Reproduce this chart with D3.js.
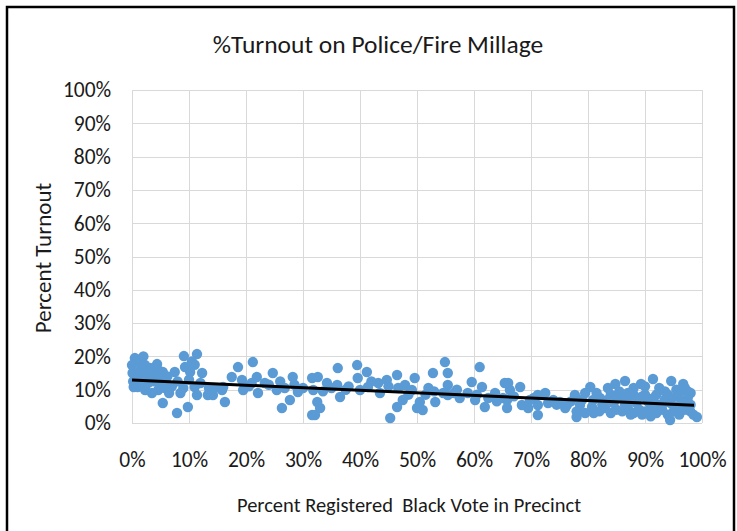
<!DOCTYPE html>
<html>
<head>
<meta charset="utf-8">
<script src="https://cdn.jsdelivr.net/npm/d3@7/dist/d3.min.js"></script>
<style>
  html, body { margin: 0; padding: 0; background: #fff; }
  svg { display: block; }
  text { font-family: Carlito, Calibri, Lato, "Open Sans", sans-serif; fill: #1a1a1a; }
</style>
</head>
<body>
<script>
// ---- data ----
const title = "%Turnout on Police/Fire Millage";
const xTitle = "Percent Registered  Black Vote in Precinct";
const yTitle = "Percent Turnout";
const xTicks = [0, 10, 20, 30, 40, 50, 60, 70, 80, 90, 100];
const yTicks = [0, 10, 20, 30, 40, 50, 60, 70, 80, 90, 100];

// percent registered black vote in precinct
const blackPct = [
  0.5,0.0,1.4,2.3,3.2,4.4,4.6,5.4,0.1,1.0,2.0,3.0,0.3,1.0,2.3,3.5,4.6,5.8,5.4,0.8,1.8,2.8,3.8,4.8,6.0,0.5,1.5,2.5,3.5,4.0,6.2,5.0,0.2,1.2,2.0,
  7.9,9.8,9.1,11.4,9.3,7.5,10.2,12.3,9.0,11.0,11.4,13.3,14.2,15.8,7.0,8.0,10.0,11.0,12.0,13.5,8.5,6.5,10.5,14.5,16.0,16.3,
  17.5,18.6,19.3,19.5,21.2,21.0,21.9,22.1,23.3,24.7,25.4,26.3,26.8,27.7,28.2,29.1,31.6,31.8,32.5,31.6,24.0,26.0,30.0,20.5,28.5,
  32.6,33.0,32.1,34.2,36.0,36.1,36.5,39.5,39.6,41.2,40.0,41.4,43.2,43.5,44.7,45.3,46.5,46.7,46.5,47.5,47.9,49.1,33.5,35.0,38.0,42.0,45.0,48.5,37.5,
  49.6,50.5,50.0,51.0,52.8,53.2,54.9,55.4,55.4,54.6,55.4,57.5,58.9,59.6,60.2,61.0,61.4,61.9,63.7,65.1,65.4,65.8,51.5,53.0,56.5,57.0,60.5,62.5,64.0,52.0,
  66.0,66.3,65.8,68.1,68.4,69.5,69.8,71.2,72.5,71.2,71.2,73.9,75.1,76.3,77.7,78.0,78.6,79.5,80.4,80.9,80.7,82.1,67.0,70.5,74.5,77.0,79.0,81.5,78.0,76.0,73.0,79.5,81.0,
  84.8,86.5,89.3,91.4,94.6,96.7,83.5,88.0,90.0,92.5,95.5,97.0,85.5,87.0,93.5,98.0,
  82.5,83.5,84.5,85.5,86.5,87.5,88.5,89.5,90.5,91.5,92.5,93.5,94.5,95.5,96.5,97.5,98.0,84.0,86.0,88.0,90.0,92.0,94.0,96.0,97.5,
  82.0,83.0,84.0,85.0,86.0,87.0,88.0,89.0,90.0,91.0,92.0,93.0,94.4,94.0,95.0,96.0,97.0,97.9,98.5,99.1,95.5,93.0,91.0,89.5,87.5
];
// percent turnout
const turnout = [
  19.5,17.4,18.3,17.4,16.5,17.7,15.9,15.3,15.0,15.0,14.5,14.0,10.8,10.8,9.9,9.0,9.9,10.5,6.0,13.0,12.5,12.0,12.5,13.0,12.0,11.5,16.0,15.5,15.0,14.0,14.0,11.0,12.5,19.0,20.0,
  3.0,4.8,20.1,20.7,16.8,15.3,15.3,15.0,10.5,10.8,8.4,8.4,8.4,9.9,11.0,12.5,13.0,17.5,12.0,10.5,9.0,9.0,18.5,10.5,10.8,6.3,
  13.8,16.8,12.9,9.9,18.3,12.0,13.8,9.0,12.0,15.0,9.9,4.5,10.5,6.9,13.8,9.3,13.5,9.9,6.3,2.4,11.5,12.5,10.5,11.0,11.5,
  13.8,4.5,2.4,12.0,11.4,16.5,7.8,17.4,13.5,15.3,9.9,10.8,12.0,9.0,12.9,1.5,14.4,10.5,4.8,6.9,11.4,9.9,9.5,10.5,11.0,12.5,11.0,8.5,10.0,
  13.5,6.3,4.5,3.9,15.0,6.3,18.3,15.0,11.4,9.0,8.4,7.5,9.0,12.3,6.9,16.8,10.8,4.8,9.0,7.5,12.0,4.5,8.5,9.5,9.0,10.0,8.5,7.5,6.5,10.5,
  12.0,9.9,6.9,10.8,5.4,4.5,6.9,8.4,9.0,2.4,5.4,6.9,6.3,5.4,8.4,1.8,5.4,9.0,10.8,6.9,4.8,7.5,8.0,7.5,5.5,6.5,7.0,9.0,3.5,4.5,6.0,3.0,3.0,
  11.7,12.6,11.7,13.2,12.6,11.7,10.5,10.5,11.0,10.5,10.0,10.5,9.5,9.0,9.5,9.0,
  5.5,7.0,6.0,7.5,5.5,7.0,6.0,8.0,6.5,7.5,5.5,7.0,6.0,8.0,6.5,7.5,5.5,8.5,8.0,8.5,8.5,8.5,8.5,9.0,9.5,
  3.5,4.5,3.0,4.0,3.5,4.5,3.0,4.0,3.5,4.5,3.0,4.0,0.9,2.5,3.5,2.5,4.0,3.6,2.5,1.8,5.0,5.5,2.0,2.5,2.5
];
// linear trendline (start and end, as drawn in the reference)
const trendX = [0, 98.6];
const trendY = [12.9, 5.3];

// ---- drawing ----
const W = 737, H = 531;
const plot = { left: 132, right: 702, top: 90, bottom: 423 };

const svg = d3.select("body").append("svg").attr("width", W).attr("height", H);
svg.append("rect").attr("width", W).attr("height", H).attr("fill", "#fff");

const x = d3.scaleLinear().domain([0, 100]).range([plot.left, plot.right]);
const y = d3.scaleLinear().domain([0, 100]).range([plot.bottom, plot.top]);

// gridlines
const grid = svg.append("g").attr("stroke", "#D9D9D9").attr("stroke-width", 1);
grid.selectAll("line.h").data(yTicks).join("line")
  .attr("x1", plot.left).attr("x2", plot.right)
  .attr("y1", d => Math.round(y(d)) + 0.5).attr("y2", d => Math.round(y(d)) + 0.5);
grid.selectAll("line.v").data(xTicks).join("line")
  .attr("y1", plot.top).attr("y2", plot.bottom)
  .attr("x1", d => Math.round(x(d)) + 0.5).attr("x2", d => Math.round(x(d)) + 0.5);

// axes (labels only)
const yAxis = d3.axisLeft(y).tickValues(yTicks).tickFormat(d => d + "%").tickSize(0).tickPadding(21);
const gy = svg.append("g").attr("transform", `translate(${plot.left},0)`).call(yAxis);
gy.select(".domain").remove();
gy.selectAll("text").style("font-size", "21.5px").attr("fill", "#1a1a1a");

const xAxis = d3.axisBottom(x).tickValues(xTicks).tickFormat(d => d + "%").tickSize(0).tickPadding(29);
const gx = svg.append("g").attr("transform", `translate(0,${plot.bottom})`).call(xAxis);
gx.select(".domain").remove();
gx.selectAll("text").style("font-size", "21.5px").attr("fill", "#1a1a1a");

// points
const pts = blackPct.map((b, i) => ({ b, t: turnout[i] }));
svg.append("g").selectAll("circle").data(pts).join("circle")
  .attr("cx", d => x(d.b)).attr("cy", d => y(d.t)).attr("r", 5.2)
  .attr("fill", "#5B9BD5");

// trendline
svg.append("line")
  .attr("x1", x(trendX[0])).attr("y1", y(trendY[0]))
  .attr("x2", x(trendX[1])).attr("y2", y(trendY[1]))
  .attr("stroke", "#000").attr("stroke-width", 3);

// titles
svg.append("text").attr("x", 378).attr("y", 53).attr("text-anchor", "middle")
  .style("font-size", "25.5px").text(title);
svg.append("text").attr("x", 409).attr("y", 512).attr("text-anchor", "middle")
  .style("font-size", "20.5px").style("white-space", "pre").text(xTitle);
svg.append("text").attr("transform", "translate(51,258) rotate(-90)").attr("text-anchor", "middle")
  .style("font-size", "23px").text(yTitle);

// outer frame
svg.append("rect").attr("x", 7).attr("y", 7).attr("width", 727).attr("height", 560)
  .attr("fill", "none").attr("stroke", "#000").attr("stroke-width", 2.5);
</script>
</body>
</html>
